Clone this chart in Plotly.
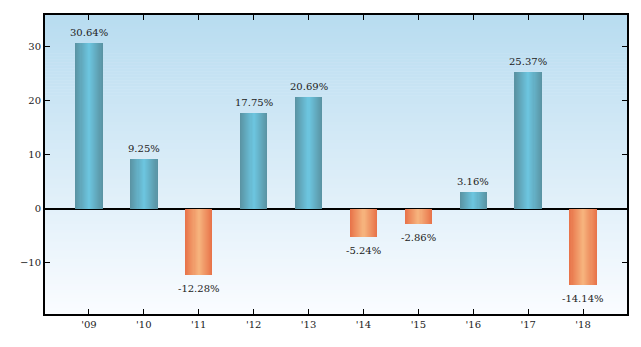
import plotly.graph_objects as go
import numpy as np

categories = ["'09", "'10", "'11", "'12", "'13", "'14", "'15", "'16", "'17", "'18"]
returns = [30.64, 9.25, -12.28, 17.75, 20.69, -5.24, -2.86, 3.16, 25.37, -14.14]
labels = ["30.64%", "9.25%", "-12.28%", "17.75%", "20.69%", "-5.24%", "-2.86%", "3.16%", "25.37%", "-14.14%"]

def mix(c1, c2, t):
    return tuple(int(round(a + (b - a) * t)) for a, b in zip(c1, c2))

def rgb(c):
    return "rgb(%d,%d,%d)" % c

blue_edge, blue_mid = (90, 148, 164), (108, 196, 222)
orange_edge, orange_mid = (232, 116, 74), (246, 178, 124)

FONT = "'DejaVu Serif', 'Liberation Serif', serif"

x_idx = list(range(len(categories)))
fig = go.Figure()

# background vertical gradient
top_c, bot_c = (184, 220, 240), (250, 252, 255)
nb = 100
for i in range(nb):
    t = i / (nb - 1)
    fig.add_shape(type="rect", xref="paper", yref="paper",
                  x0=0, x1=1, y0=1 - (i + 1) / nb, y1=1 - i / nb + 0.002,
                  fillcolor=rgb(mix(top_c, bot_c, t)), line_width=0, layer="below")

# nested bars to simulate cylindrical gradient
full_w = 0.5
n_layers = 13
for k in range(n_layers):
    tc = k / (n_layers - 1)
    w = full_w * (1 - k / n_layers)
    cols = [rgb(mix(blue_edge, blue_mid, tc)) if v >= 0 else rgb(mix(orange_edge, orange_mid, tc)) for v in returns]
    fig.add_trace(go.Bar(x=x_idx, y=returns, width=w, marker=dict(color=cols, line_width=0),
                         showlegend=False, hoverinfo="skip"))

for xi, v, lab in zip(x_idx, returns, labels):
    fig.add_annotation(x=xi, y=v, text=lab, showarrow=False,
                       yanchor="bottom" if v >= 0 else "top",
                       yshift=3 if v >= 0 else -6,
                       font=dict(family=FONT, size=10, color="#222"))

axis_common = dict(showline=True, linecolor="black", linewidth=2, mirror="ticks",
                   ticks="inside", ticklen=5, tickwidth=1, tickcolor="black",
                   showgrid=False, layer="above traces",
                   tickfont=dict(family=FONT, size=10, color="#222"))

fig.update_layout(
    width=641, height=347,
    margin=dict(l=45, r=14, t=15, b=33),
    paper_bgcolor="white", plot_bgcolor="white",
    font=dict(family=FONT),
    barmode="overlay", bargap=0,
    xaxis=dict(range=[-0.8, 9.8], tickmode="array", tickvals=x_idx, ticktext=categories,
               zeroline=False, **axis_common),
    yaxis=dict(range=[-19.5, 35.9], tickvals=[-10, 0, 10, 20, 30],
               zeroline=True, zerolinecolor="black", zerolinewidth=2, **axis_common),
)

fig.write_html("out.html")
